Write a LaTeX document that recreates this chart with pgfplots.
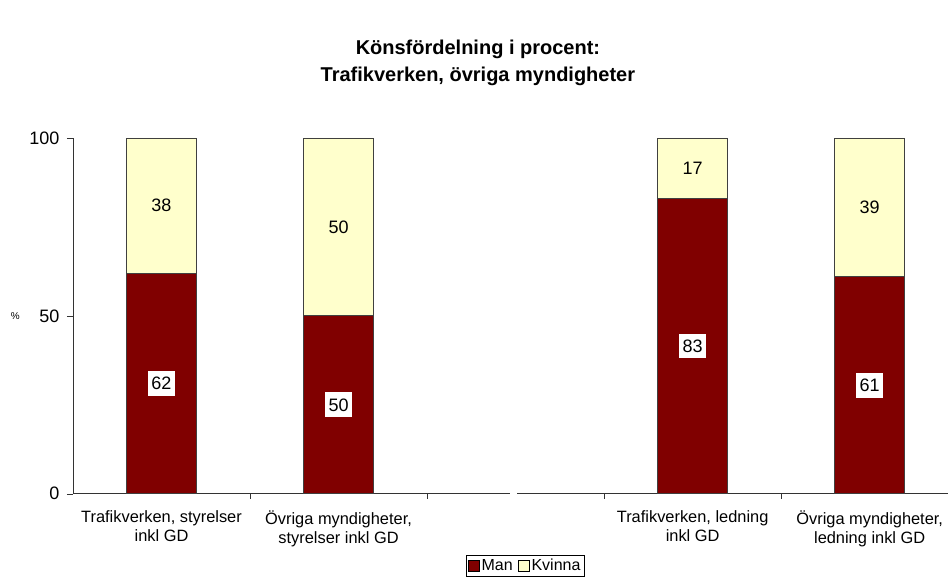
\documentclass[border=0pt]{standalone}
\usepackage{fontspec}
\setmainfont{Liberation Sans}
\usepackage{pgfplots}
\pgfplotsset{compat=1.18}
\definecolor{man}{HTML}{800000}
\definecolor{kvinna}{HTML}{FFFFCC}
\begin{document}
\begin{tikzpicture}
\begin{axis}[
  scale only axis, width=875bp, height=356bp,
  clip=false,
  ybar stacked, bar width=70bp,
  xmin=-0.5, xmax=4.44, ymin=0, ymax=100,
  axis lines=left, axis line style={-, black!80},
  x axis line style={draw=none},
  /pgf/number format/assume math mode=true,
  xtick={0,1,3,4},
  xticklabels={{Trafikverken, styrelser\\inkl GD},{Övriga myndigheter,\\styrelser inkl GD},{Trafikverken, ledning\\inkl GD},{Övriga myndigheter,\\ledning inkl GD}},
  xticklabel style={font=\fontsize{16.4bp}{19bp}\selectfont, align=center, yshift=-7bp},
  minor xtick={0.5,1.5,2.5,3.5},
  major x tick style={draw=none},
  minor x tick style={draw=black!80},
  minor tick length=5bp,
  ytick={0,50,100},
  yticklabel style={font=\fontsize{18bp}{20bp}\selectfont, xshift=-4bp},
  major tick length=6bp, tick align=outside,
  y tick style={draw=black!80},
  ylabel={\%},
  ylabel style={rotate=-90, font=\fontsize{11bp}{12bp}\selectfont},
  every axis y label/.style={at={(axis description cs:-0.066,0.5)}, anchor=center},
  legend style={at={(axis description cs:0.517,-0.202)}, anchor=center, legend columns=2,
    draw=black, font=\fontsize{16bp}{18bp}\selectfont, inner sep=1.5bp,
    /tikz/every even column/.append style={column sep=3bp}},
  legend image code/.code={\draw[#1, draw=black] (0bp,-5.5bp) rectangle (11bp,5.5bp);},
]
\addplot[fill=man, draw=black!75, line width=0.8bp,
  nodes near coords, point meta=rawy,
  every node near coord/.append style={anchor=center, fill=white,
    inner xsep=3.5bp, inner ysep=6bp, font=\fontsize{18bp}{20bp}\selectfont, text=black}]
  coordinates {(0,62) (1,50) (3,83) (4,61)};
\addplot[fill=kvinna, draw=black!75, line width=0.8bp,
  nodes near coords, point meta=rawy,
  every node near coord/.append style={anchor=center,
    font=\fontsize{18bp}{20bp}\selectfont, text=black}]
  coordinates {(0,38) (1,50) (3,17) (4,39)};
\legend{Man, Kvinna}
\draw[black!80, line width=0.8bp] (axis cs:-0.5,0) -- (axis cs:1.97,0);
\draw[black!80, line width=0.8bp] (axis cs:2.01,0) -- (axis cs:4.44,0);
\node[font=\bfseries\fontsize{20bp}{27bp}\selectfont, align=center] at (axis description cs:0.463,1.21)
  {Könsfördelning i procent:\\Trafikverken, övriga myndigheter};
\end{axis}
\useasboundingbox ([xshift=-73bp,yshift=-84bp]current axis.south west) rectangle ([yshift=138bp]current axis.north east);
\end{tikzpicture}
\end{document}
